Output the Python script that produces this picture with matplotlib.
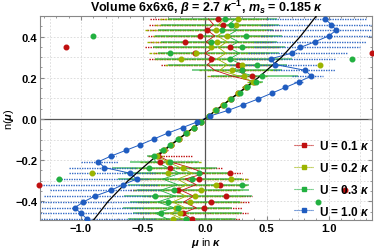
import numpy as np
import matplotlib
matplotlib.use('Agg')
from matplotlib import pyplot as plt
from matplotlib.lines import Line2D

plt.rcParams['font.family'] = ['Liberation Sans', 'DejaVu Sans']
plt.rcParams['font.weight'] = 'bold'
plt.rcParams['mathtext.fontset'] = 'custom'
plt.rcParams['mathtext.rm'] = 'Liberation Sans:bold'
plt.rcParams['mathtext.it'] = 'Liberation Sans:italic:bold'
plt.rcParams['mathtext.bf'] = 'Liberation Sans:bold'

# particle number levels
n = [-0.486, -0.458, -0.431, -0.403, -0.375, -0.347, -0.319, -0.292, -0.264, -0.236, -0.208,
     -0.181, -0.153, -0.125, -0.097, -0.069, -0.042, -0.014, 0.014, 0.042, 0.069, 0.097, 0.125, 0.153, 0.181,
     0.208, 0.236, 0.264, 0.292, 0.319, 0.347, 0.375, 0.403, 0.431, 0.458, 0.486]

# U = 0.1
mu_r = [-0.10, -0.18, -0.01, 0.05, 0.17, -0.22, 0.12, -0.05, 0.20, -0.28, -0.36,
        -0.38, -0.33, -0.27, -0.21, -0.15, -0.09, -0.03, 0.03, 0.09, 0.15, 0.21, 0.27, 0.33, 0.40,
        0.38, 0.30, 0.27, 0.05, -0.08, 0.20, -0.16, -0.04, 0.02, 0.15, 0.11]
line_r = [-0.10, -0.18, -0.07, -0.17, -0.09, -0.19, -0.07, -0.16, 0.0, -0.12, -0.28,
          -0.37, -0.33, -0.27, -0.21, -0.15, -0.09, -0.03, 0.03, 0.09, 0.15, 0.21, 0.27, 0.33, 0.40,
          0.22, 0.08, 0.02, 0.08, 0.0, 0.07, 0.01, 0.08, 0.02, 0.07, 0.03]
lo_r = [-0.50, -0.55, -0.48, -0.52, -0.45, -0.60, -0.50, -0.55, -0.45, -0.50, -0.46,
        -0.46, -0.36, -0.29, -0.23, -0.17, -0.10, -0.04, 0.02, 0.08, 0.13, 0.19, 0.25, 0.30, 0.36,
        0.04, 0.02, -0.35, -0.45, -0.42, -0.48, -0.44, -0.46, -0.47, -0.45, -0.44]
hi_r = [0.28, 0.35, 0.30, 0.36, 0.38, 0.25, 0.32, 0.35, 0.30, 0.15, -0.10,
        -0.10, -0.30, -0.25, -0.19, -0.13, -0.08, -0.02, 0.04, 0.10, 0.17, 0.23, 0.29, 0.36, 0.44,
        0.42, 0.45, 0.60, 0.55, 0.50, 0.60, 0.55, 0.50, 0.62, 0.55, 0.50]

# U = 0.2
mu_o = [-0.26, -0.20, -0.23, -0.12, -0.08, -0.03, 0.09, 0.21, -0.30, -0.18, -0.30,
        -0.39, -0.33, -0.27, -0.205, -0.145, -0.085, -0.03, 0.03, 0.085, 0.145, 0.205, 0.27, 0.33, 0.39,
        0.32, 0.22, 0.30, -0.19, -0.07, 0.05, 0.10, 0.175, 0.09, 0.25, 0.27]
line_o = [-0.18, -0.28, -0.16, -0.26, -0.15, -0.25, -0.14, -0.22, -0.10, -0.20, -0.30,
          -0.39, -0.33, -0.27, -0.205, -0.145, -0.085, -0.03, 0.03, 0.085, 0.145, 0.205, 0.27, 0.33, 0.39,
          0.28, 0.12, 0.18, 0.10, 0.17, 0.11, 0.18, 0.10, 0.17, 0.11, 0.16]
lo_o = [-0.58, -0.52, -0.60, -0.55, -0.50, -0.58, -0.52, -0.62, -0.55, -0.60, -0.52,
        -0.45, -0.36, -0.29, -0.22, -0.16, -0.10, -0.04, 0.02, 0.07, 0.13, 0.19, 0.25, 0.30, 0.34,
        0.02, -0.05, -0.32, -0.40, -0.45, -0.40, -0.47, -0.42, -0.48, -0.40, -0.36]
hi_o = [0.22, 0.28, 0.20, 0.30, 0.32, 0.30, 0.34, 0.35, 0.22, 0.05, -0.02,
        -0.34, -0.30, -0.25, -0.19, -0.13, -0.07, -0.02, 0.04, 0.10, 0.16, 0.22, 0.29, 0.36, 0.45,
        0.50, 0.58, 0.55, 0.62, 0.52, 0.58, 0.50, 0.56, 0.48, 0.52, 0.45]

# U = 0.3
mu_g = [-0.15, -0.35, -0.22, -0.30, -0.40, -0.25, 0.30, -0.10, -0.05, -0.45, -0.28,
        -0.41, -0.34, -0.28, -0.215, -0.155, -0.09, -0.03, 0.03, 0.09, 0.155, 0.215, 0.28, 0.34, 0.41,
        0.46, 0.30, 0.42, 0.20, -0.28, 0.30, 0.05, 0.33, 0.14, 0.215, 0.16]
line_g = [-0.30, -0.40, -0.25, -0.38, -0.24, -0.36, -0.22, -0.34, -0.20, -0.30, -0.40,
          -0.41, -0.34, -0.28, -0.215, -0.155, -0.09, -0.03, 0.03, 0.09, 0.155, 0.215, 0.28, 0.34, 0.41,
          0.40, 0.22, 0.30, 0.20, 0.28, 0.19, 0.27, 0.18, 0.26, 0.19, 0.25]
lo_g = [-0.62, -0.58, -0.66, -0.60, -0.65, -0.55, -0.62, -0.70, -0.65, -0.75, -0.60,
        -0.47, -0.37, -0.30, -0.23, -0.17, -0.10, -0.04, 0.02, 0.08, 0.14, 0.20, 0.26, 0.31, 0.36,
        0.05, -0.10, -0.30, -0.40, -0.38, -0.42, -0.35, -0.40, -0.38, -0.35, -0.30]
hi_g = [0.25, 0.30, 0.22, 0.28, 0.38, 0.36, 0.36, 0.30, 0.20, 0.10, -0.05,
        -0.36, -0.31, -0.26, -0.20, -0.14, -0.08, -0.02, 0.04, 0.10, 0.17, 0.23, 0.30, 0.37, 0.47,
        0.75, 0.62, 0.66, 0.70, 0.60, 0.65, 0.58, 0.62, 0.55, 0.60, 0.58]

# U = 1.0
mu_b = [-0.95, -1.00, -1.05, -0.98, -0.89, -0.76, -0.66, -0.55, -0.60, -0.81, -0.86,
        -0.76, -0.64, -0.52, -0.41, -0.30, -0.18, -0.06, 0.04, 0.19, 0.31, 0.43, 0.54, 0.65, 0.76,
        0.86, 0.81, 0.57, 0.53, 0.70, 0.77, 0.89, 1.00, 1.06, 1.02, 0.97]
lo_b = [-1.40, -1.45, -1.50, -1.45, -1.30, -1.25, -1.35, -1.20, -1.10, -1.10, -1.00,
        -0.78, -0.65, -0.53, -0.42, -0.31, -0.19, -0.07, 0.03, 0.18, 0.30, 0.42, 0.53, 0.63, 0.72,
        0.70, 0.55, 0.20, 0.25, 0.35, 0.40, 0.40, 0.45, 0.50, 0.45, 0.50]
hi_b = [-0.40, -0.45, -0.50, -0.45, -0.40, -0.35, -0.38, -0.45, -0.40, -0.55, -0.70,
        -0.72, -0.63, -0.51, -0.40, -0.29, -0.17, -0.05, 0.05, 0.20, 0.32, 0.44, 0.55, 0.67, 0.80,
        0.95, 1.05, 0.93, 1.06, 1.15, 1.25, 1.30, 1.35, 1.40, 1.35, 1.30]

# stray points
out_r_mu = [-1.12, 1.35, -1.34, 1.13]
out_r_n = [0.347, 0.319, -0.319, -0.347]
out_o_mu = [0.93, -0.91]
out_o_n = [0.264, -0.264]
out_g_mu = [-0.90, 1.19, -1.18, 0.91]
out_g_n = [0.403, 0.292, -0.292, -0.403]

# free curve
free_n = [-0.5, -0.4, -0.3, -0.2, -0.1, 0.0, 0.1, 0.2, 0.3, 0.4, 0.5]
free_mu = [-0.91, -0.78, -0.62, -0.43, -0.215, 0.0, 0.215, 0.43, 0.62, 0.77, 0.90]

c_r = '#c01010'
c_o = '#9cb400'
c_g = '#22b040'
c_b = '#1f5cc0'

fig = plt.figure(figsize=(3.74, 2.53), dpi=100)
ax = fig.add_axes([0.107, 0.127, 0.888, 0.806])

for v in [-1.25, -1.0, -0.75, -0.5, -0.25, 0.25, 0.5, 0.75, 1.0, 1.25]:
    ax.axvline(v, color='#d8d8d8', lw=0.6, ls=(0, (2, 2)), zorder=0)
for v in [-0.4, -0.3, -0.2, -0.1, 0.1, 0.2, 0.3, 0.4]:
    ax.axhline(v, color='#d8d8d8', lw=0.6, ls=(0, (2, 2)), zorder=0)
ax.axhline(0, color='#555555', lw=0.9, zorder=1)
ax.axvline(0, color='#555555', lw=0.9, zorder=1)

# error bars
ax.hlines(n, lo_r, hi_r, color=c_r, lw=1.0, ls=(0, (1, 0.8)), zorder=2)
ax.hlines(n, lo_o, hi_o, color=c_o, lw=1.0, ls=(0, (2, 1)), zorder=2)
ax.hlines(n, lo_g, hi_g, color=c_g, lw=1.4, alpha=0.6, zorder=2)
ax.hlines(n, lo_b, hi_b, color=c_b, lw=1.0, ls=(0, (1, 0.8)), alpha=0.9, zorder=2)

# thin joining lines
ax.plot(line_r, n, color=c_r, lw=0.6, zorder=3)
ax.plot(line_o, n, color=c_o, lw=0.6, zorder=3)
ax.plot(line_g, n, color=c_g, lw=0.6, zorder=3)
ax.plot(mu_b, n, color=c_b, lw=0.7, zorder=3)

ax.plot(free_mu, free_n, color='black', lw=0.9, zorder=4)

ax.plot(mu_r, n, 'o', color=c_r, ms=3.3, zorder=5)
ax.plot(mu_o, n, 'o', color=c_o, ms=3.3, zorder=5)
ax.plot(mu_g, n, 'o', color=c_g, ms=3.3, zorder=5)
ax.plot(mu_b, n, 'o', color=c_b, ms=3.3, zorder=5)
ax.plot(out_r_mu, out_r_n, 'o', color=c_r, ms=3.3, zorder=5, clip_on=False)
ax.plot(out_o_mu, out_o_n, 'o', color=c_o, ms=3.3, zorder=5)
ax.plot(out_g_mu, out_g_n, 'o', color=c_g, ms=3.3, zorder=5)

ax.set_xlim(-1.33, 1.35)
ax.set_ylim(-0.49, 0.50)
ax.set_xticks([-1.0, -0.5, 0.0, 0.5, 1.0])
ax.set_xticklabels(['\u22121.0', '\u22120.5', '0.0', '0.5', '1.0'])
ax.set_yticks([-0.4, -0.2, 0.0, 0.2, 0.4])
ax.set_yticklabels(['\u22120.4', '\u22120.2', '0.0', '0.2', '0.4'])
ax.set_xticks(np.arange(-1.3, 1.35, 0.1), minor=True)
ax.set_yticks(np.arange(-0.45, 0.5, 0.05), minor=True)
ax.tick_params(which='both', direction='in', top=True, right=True, labelsize=8,
               color='#888888', pad=2)
ax.tick_params(which='major', length=3)
ax.tick_params(which='minor', length=1.5)
for s in ax.spines.values():
    s.set_color('#888888')
    s.set_linewidth(0.8)

ax.set_xlabel(r'$\mu$ in $\kappa$', fontsize=8, labelpad=2)
ax.set_ylabel(r'n($\mu$)', fontsize=8, labelpad=0)
ax.yaxis.set_label_coords(-0.072, 0.5)
ax.set_title(r'Volume 6x6x6, $\beta$ = 2.7 $\kappa^{-1}$, $m_s$ = 0.185 $\kappa$',
             fontsize=9, fontweight='bold', pad=2)

handles = [Line2D([], [], color=c, lw=0.8, ls=(0, (1, 0.8)), marker='s', ms=3)
           for c in [c_r, c_o, c_g, c_b]]
labels = [r'U = 0.1 $\kappa$', r'U = 0.2 $\kappa$', r'U = 0.3 $\kappa$', r'U = 1.0 $\kappa$']
ax.legend(handles, labels, loc='lower right', frameon=False,
          handlelength=1.6, handletextpad=0.5, labelspacing=0.75,
          borderaxespad=0.0, borderpad=0.2, prop={'weight': 'bold', 'size': 8.5})

fig.savefig('out.png', dpi=100)
